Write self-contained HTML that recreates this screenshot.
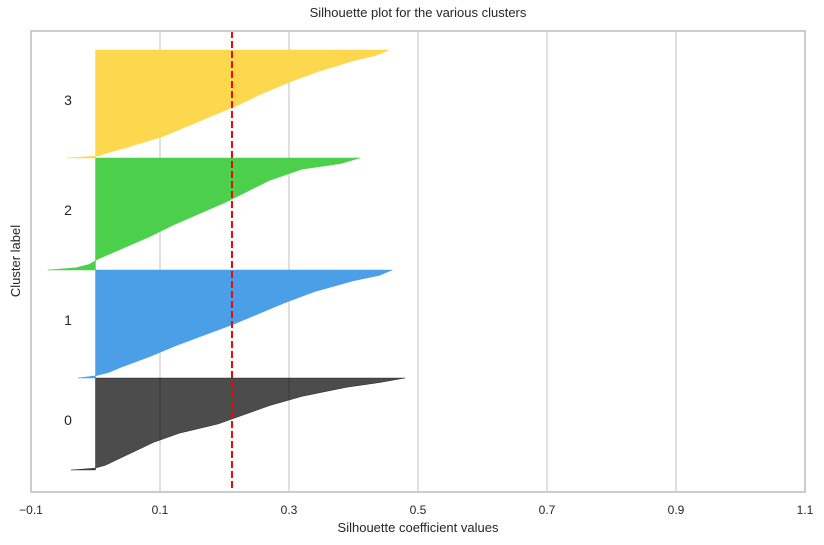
<!DOCTYPE html>
<html><head><meta charset="utf-8"><style>
body{margin:0;background:#fff;}
svg{display:block;font-family:"Liberation Sans",Arial,sans-serif;}
</style></head><body>
<svg id="chart" width="824" height="545" viewBox="0 0 824 545"></svg>
<script>
const xTicks=[-0.1,0.1,0.3,0.5,0.7,0.9,1.1];
const xTickLabels=["\u22120.1","0.1","0.3","0.5","0.7","0.9","1.1"];
const clusterLabels=["0","1","2","3"];
const clusterSizes=[92,108,112,108];
const fracs=[0,0.02,0.05,0.1,0.2,0.3,0.4,0.5,0.6,0.7,0.8,0.9,0.95,1];
const sil0=[-0.038,-0.001,0.015,0.03,0.06,0.09,0.13,0.19,0.23,0.27,0.32,0.39,0.44,0.48];
const sil1=[-0.027,0.0,0.02,0.04,0.085,0.125,0.17,0.215,0.255,0.295,0.34,0.4,0.44,0.46];
const sil2=[-0.074,-0.03,-0.01,0.005,0.045,0.085,0.12,0.16,0.2,0.235,0.27,0.32,0.38,0.41];
const sil3=[-0.044,0.005,0.02,0.05,0.105,0.145,0.185,0.225,0.26,0.3,0.345,0.4,0.435,0.455];
const meanScore=0.2116;
const colors=["rgba(0,0,0,0.7)","#4a9fe6","#4cd04c","#fdd84f"];
const series=[sil0,sil1,sil2,sil3];

const L=31,R=805,T=31,B=492;
const xMin=-0.1,xMax=1.1,yMin=0,yMax=461,yStart=22;
const xs=v=>L+(v-xMin)/(xMax-xMin)*(R-L);
const ys=v=>B-(v-yMin)/(yMax-yMin)*(B-T);
const svg=document.getElementById('chart');
const NS='http://www.w3.org/2000/svg';
function mk(tag,attrs,parent){const e=document.createElementNS(NS,tag);for(const k in attrs)e.setAttribute(k,attrs[k]);(parent||svg).appendChild(e);return e;}

xTicks.forEach((t,i)=>{
  const g=mk('line',{x1:xs(t),x2:xs(t),y1:T,y2:B,stroke:'#cccccc','stroke-width':1.2});
  
  
  const tx=mk('text',{x:xs(t),y:514,'text-anchor':'middle','font-size':12,fill:'#262626'});
  tx.textContent=xTickLabels[i];
  
  
});

let yl=yStart;
series.forEach((vals,c)=>{
  const h=clusterSizes[c];
  let pts=[xs(0)+','+ys(yl)];
  vals.forEach((v,i)=>{pts.push(xs(v)+','+ys(yl+fracs[i]*h));});
  pts.push(xs(0)+','+ys(yl+h));
  const p=mk('polygon',{points:pts.join(' '),fill:colors[c],stroke:colors[c],'stroke-width':0.5});
  
  
  const lb=mk('text',{x:68,y:ys(yl+h/2)+1,'text-anchor':'middle','font-size':14,fill:'#262626'});
  lb.textContent=clusterLabels[c];
  
  
  yl+=h;
});

const ml=mk('line',{x1:xs(meanScore),x2:xs(meanScore),y1:T,y2:B,stroke:'#ff0000','stroke-width':2,'stroke-dasharray':'7,3'});



const fr=mk('rect',{x:L,y:T,width:R-L,height:B-T,fill:'none',stroke:'#cccccc','stroke-width':2});



const ti=mk('text',{x:418,y:17,'text-anchor':'middle','font-size':13,fill:'#262626'});
ti.textContent='Silhouette plot for the various clusters';


const xl=mk('text',{x:418,y:532,'text-anchor':'middle','font-size':13,fill:'#262626'});
xl.textContent='Silhouette coefficient values';


const yt=mk('text',{x:0,y:0,'text-anchor':'middle','font-size':13,fill:'#262626',transform:'translate(20,261) rotate(-90)'});
yt.textContent='Cluster label';


</script>
</body></html>
